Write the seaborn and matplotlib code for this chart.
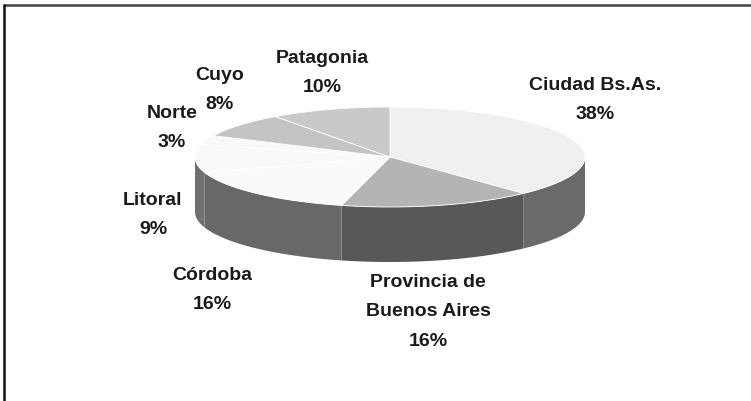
import numpy as np
import matplotlib.pyplot as plt
import seaborn as sns
from matplotlib.lines import Line2D

# data
regions = ['Ciudad Bs.As.', 'Provincia de\nBuenos Aires', 'Córdoba', 'Litoral', 'Norte', 'Cuyo', 'Patagonia']
shares = [38, 16, 16, 9, 3, 8, 10]

# grey tones for top faces and side walls
top_colors = ['#f0f0f0', '#b4b4b4', '#fafafa', '#f9f9f9', '#f8f8f8', '#c4c4c4', '#c9c9c9']
side_colors = ['#6a6a6a', '#585858', '#686868', '#707070', '#707070', '#6a6a6a', '#6a6a6a']

# label anchor points (pixel space of the figure)
label_pos = [(595, 100), (428, 312), (212, 290), (153, 215), (172, 128), (220, 90), (322, 73)]

sns.set_style('white')
plt.rcParams['font.family'] = ['Liberation Sans Narrow', 'Liberation Sans', 'DejaVu Sans']

fig = plt.figure(figsize=(7.51, 4.02), dpi=100)
ax = fig.add_axes([0, 0, 1, 1])
ax.set_xlim(0, 751)
ax.set_ylim(402, 0)
ax.axis('off')

# pie geometry
cx, cy = 390, 158
rx, ry = 195, 50
depth = 55

def rim(theta):
    t = np.radians(theta)
    return cx + rx * np.cos(t), cy - ry * np.sin(t)

# slice angles, clockwise from 12 o'clock
angles = 90 - 360 * np.cumsum([0] + shares) / sum(shares)

# side walls (front half only)
for i in range(len(shares)):
    a1, a2 = angles[i], angles[i + 1]  # a1 > a2
    lo, hi = max(a2, -180), min(a1, 0)
    if lo >= hi:
        continue
    th = np.linspace(hi, lo, 60)
    xs, ys = rim(th)
    px = np.concatenate([xs, xs[::-1]])
    py = np.concatenate([ys, ys[::-1] + depth])
    ax.fill(px, py, color=side_colors[i], lw=0)

# top faces
for i in range(len(shares)):
    th = np.linspace(angles[i], angles[i + 1], 80)
    xs, ys = rim(th)
    px = np.concatenate([[cx], xs])
    py = np.concatenate([[cy], ys])
    ax.fill(px, py, color=top_colors[i], ec='white', lw=0.6)

# labels
for i, name in enumerate(regions):
    x, y = label_pos[i]
    ax.text(x, y, f'{name}\n{shares[i]}%', ha='center', va='center',
            fontsize=14, fontweight='bold', linespacing=1.95, color='#1a1a1a')

# frame: top and left lines only
fig.add_artist(Line2D([4 / 751, 1], [1 - 6 / 402, 1 - 6 / 402], color='#444444', lw=1.8))
fig.add_artist(Line2D([4 / 751, 4 / 751], [0, 1 - 6 / 402], color='#111111', lw=1.8))

fig.savefig('out.png', dpi=100)
